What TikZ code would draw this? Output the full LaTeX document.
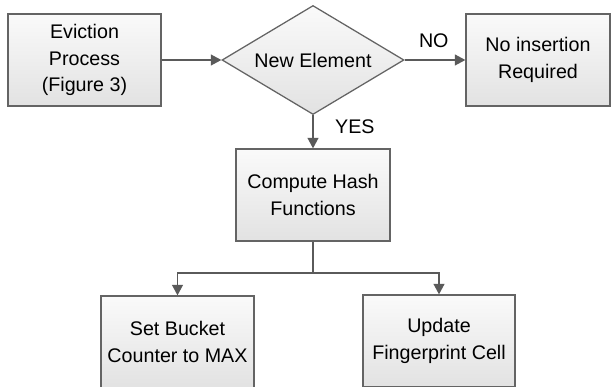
\documentclass[tikz,border=0pt]{standalone}
\usepackage{fontspec}
\setmainfont{Liberation Sans}
\definecolor{boxline}{RGB}{100, 100, 100}
\definecolor{flowgray}{RGB}{90, 90, 90}
\definecolor{shadetop}{RGB}{250, 250, 250}
\definecolor{shadebot}{RGB}{226, 226, 226}
\usetikzlibrary{shapes.geometric, arrows.meta}

\begin{document}
\begin{tikzpicture}[
  pbox/.style={draw=boxline, line width=0.9pt, top color=shadetop, bottom color=shadebot, align=center, minimum height=2.3cm, inner sep=2pt, font=\fontsize{14}{19}\selectfont},
  decide/.style={diamond, aspect=1.67, draw=boxline, line width=0.9pt, top color=shadetop, bottom color=shadebot, minimum width=4.55cm, minimum height=2.725cm, inner sep=1pt, font=\fontsize{14}{19}\selectfont},
  flow/.style={draw=flowgray, line width=0.9pt, -{Triangle[length=0.26cm, width=0.27cm]}},
  lbl/.style={font=\fontsize{14}{16}\selectfont}
]
  \clip (0,0) rectangle (15.275,-9.675);
  \node[pbox, minimum width=3.825cm] (evict) at (2.1125, -1.5) {Eviction\\Process\\(Figure 3)};
  \node[decide] (newel) at (7.825, -1.5) {New Element};
  \node[pbox, minimum width=3.6cm] (noins) at (13.45, -1.5) {No insertion\\Required};
  \node[pbox, minimum width=3.85cm] (hash) at (7.825, -4.875) {Compute Hash\\Functions};
  \node[pbox, minimum width=3.825cm] (setmax) at (4.4375, -8.55) {Set Bucket\\Counter to MAX};
  \node[pbox, minimum width=3.8cm] (upcell) at (10.975, -8.525) {Update\\Fingerprint Cell};
  \coordinate (split) at (7.825, -6.825);

  \draw[flow] (evict) -- (newel);
  \draw[flow] (newel) -- (noins) node[lbl, pos=0.48, above=5pt] {NO};
  \draw[flow] (newel.south) -- (hash.north) node[lbl, pos=0.35, right=12pt] {YES};
  \draw[draw=flowgray, line width=0.9pt] (hash.south) -- (split);
  \draw[flow] (split) -| (setmax.north);
  \draw[flow] (split) -| (upcell.north);
\end{tikzpicture}
\end{document}
